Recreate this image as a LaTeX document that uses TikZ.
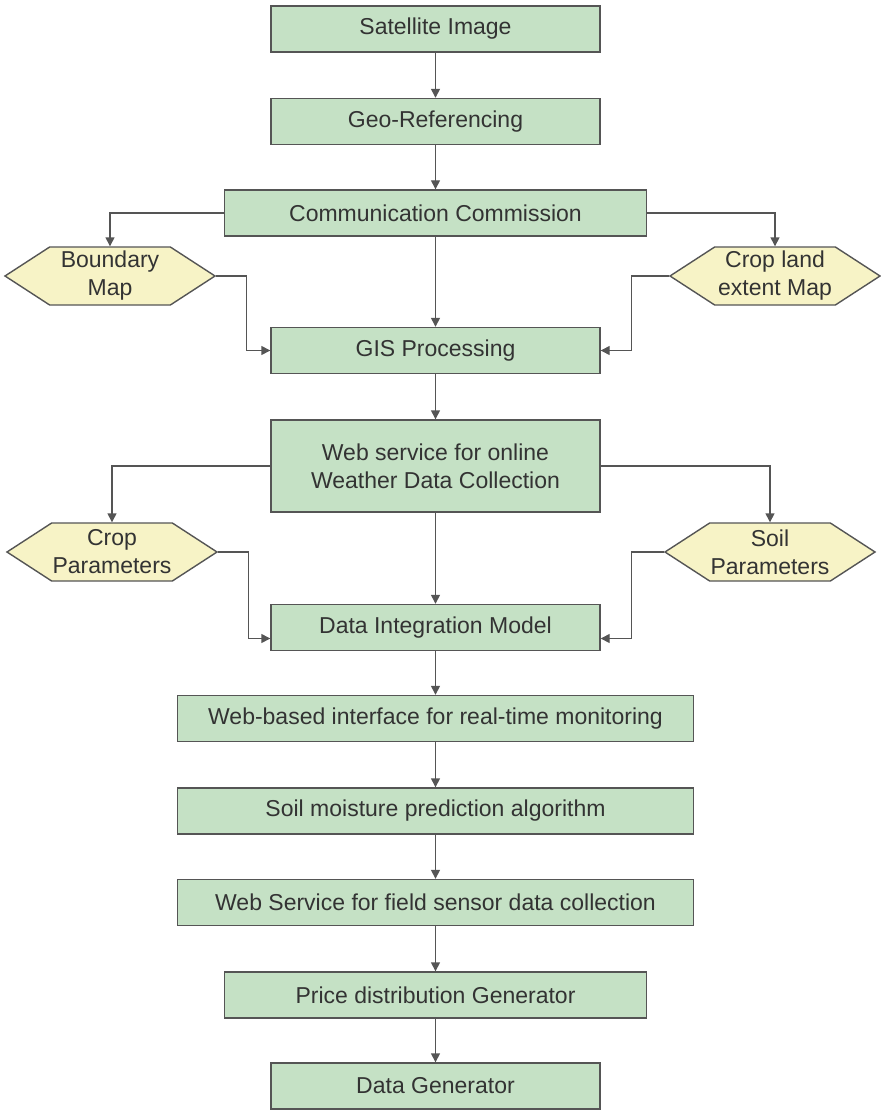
\documentclass[tikz,border=0pt]{standalone}
\usepackage{fontspec}
\setmainfont{Liberation Sans}
\usetikzlibrary{arrows.meta,shapes.symbols}
\definecolor{boxgreen}{HTML}{C5E1C5}
\definecolor{hexyellow}{HTML}{F7F3C6}
\definecolor{linegrey}{HTML}{555555}
\definecolor{textgrey}{HTML}{333333}
\tikzset{
	procbox/.style={draw=linegrey, line width=1.4pt, fill=boxgreen, text=textgrey, minimum height=46pt, inner sep=0pt, align=center, font=\fontsize{23}{28}\selectfont},
	databox/.style={signal, signal to=east and west, signal pointer angle=66, draw=linegrey, line width=1.4pt, fill=hexyellow, text=textgrey, minimum width=210pt, minimum height=58pt, inner sep=0pt, align=center, font=\fontsize{23}{28}\selectfont},
	flow/.style={draw=linegrey, line width=1.4pt, -{Triangle[width=9pt,length=9pt]}}
}
\begin{document}
\begin{tikzpicture}[x=1pt,y=-1pt]
		\def\cx{435.5}
		\def\wn{329pt}
		\def\wm{422pt}
		\def\ww{516pt}
		%
		\useasboundingbox (0,0) rectangle (880,1110);
		%
		\node[procbox, minimum width=\wn] (sat) at (\cx,29) {Satellite Image};
		\node[procbox, minimum width=\wn] (geo) at (\cx,121.5) {Geo-Referencing};
		\node[procbox, minimum width=\wm] (comm) at (\cx,213) {Communication Commission};
		\node[procbox, minimum width=\wn] (gis) at (\cx,350.5) {GIS Processing};
		\node[procbox, minimum width=\wn, minimum height=92pt] (web) at (\cx,466) {Web service for online\\Weather Data Collection};
		\node[procbox, minimum width=\wn] (integ) at (\cx,627.5) {Data Integration Model};
		\node[procbox, minimum width=\ww] (iface) at (\cx,718.5) {Web-based interface for real-time monitoring};
		\node[procbox, minimum width=\ww] (moist) at (\cx,811) {Soil moisture prediction algorithm};
		\node[procbox, minimum width=\ww] (sensor) at (\cx,902.5) {Web Service for field sensor data collection};
		\node[procbox, minimum width=\wm] (price) at (\cx,995) {Price distribution Generator};
		\node[procbox, minimum width=\wn] (gen) at (\cx,1086) {Data Generator};
		%
		\node[databox] (bound) at (110,276) {Boundary\\Map};
		\node[databox] (crop) at (775,276) {Crop land\\extent Map};
		\node[databox] (cpar) at (112,552) {Crop\\Parameters};
		\node[databox] (spar) at (770,552) {Soil\\Parameters};
		%
		\foreach \a/\b in {sat/geo, geo/comm, comm/gis, gis/web, web/integ, integ/iface, iface/moist, moist/sensor, sensor/price, price/gen}
			\draw[flow] (\a.south) -- (\b.north);
		%
		\draw[flow] (comm.west) -| (bound.north);
		\draw[flow] (comm.east) -| (crop.north);
		\draw[flow] (bound.east) -- ++(30,0) |- (gis.west);
		\draw[flow] (crop.west) -- ++(-37,0) |- (gis.east);
		%
		\draw[flow] (web.west) -| (cpar.north);
		\draw[flow] (web.east) -| (spar.north);
		\draw[flow] (cpar.east) -- ++(30,0) |- ([yshift=-11pt]integ.west);
		\draw[flow] (spar.west) -- ++(-32,0) |- ([yshift=-11pt]integ.east);
	\end{tikzpicture}
\end{document}
